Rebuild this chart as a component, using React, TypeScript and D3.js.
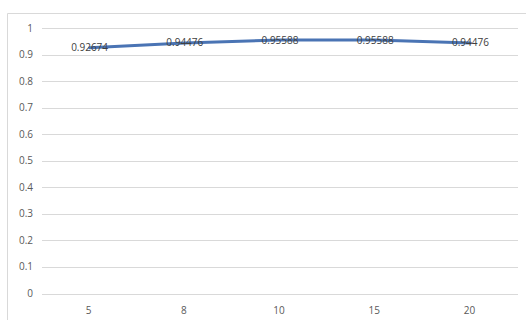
import React from "react";
import * as d3 from "d3";

const categories = ["5", "8", "10", "15", "20"];
const values = [0.92674, 0.94476, 0.95588, 0.95588, 0.94476];
const yTicks = [0, 0.1, 0.2, 0.3, 0.4, 0.5, 0.6, 0.7, 0.8, 0.9, 1];

const W = 526;
const H = 320;
const plot = { left: 42, right: 518, top: 28.3, bottom: 293.5 };
const font = "'Open Sans', 'Noto Sans', sans-serif";

export default function App() {
  const x = d3
    .scaleBand<string>()
    .domain(categories)
    .range([plot.left, plot.right]);
  const y = d3.scaleLinear().domain([0, 1]).range([plot.bottom, plot.top]);

  const line = d3
    .line<number>()
    .x((_, i) => (x(categories[i]) as number) + x.bandwidth() / 2)
    .y((d) => y(d));

  return (
    <svg
      width={W}
      height={H}
      style={{ position: "absolute", left: 0, top: 0, background: "#fff" }}
    >
      {/* chart area frame */}
      <path d={`M7.5,${H} V13.5 H${W}`} fill="none" stroke="#d9d9d9" strokeWidth={1} />

      {/* gridlines and y labels */}
      {yTicks.map((t) => (
        <g key={t}>
          <line
            x1={plot.left}
            x2={plot.right}
            y1={Math.round(y(t)) + 0.5}
            y2={Math.round(y(t)) + 0.5}
            stroke="#d9d9d9"
            strokeWidth={1}
          />
          <text
            x={33}
            y={y(t)}
            dy="0.35em"
            textAnchor="end"
            fontFamily={font}
            fontSize={10}
            fill="#595959"
          >
            {d3.format("~g")(t)}
          </text>
        </g>
      ))}

      {/* x labels */}
      {categories.map((c) => (
        <text
          key={c}
          x={(x(c) as number) + x.bandwidth() / 2 - 1}
          y={310}
          dy="0.35em"
          textAnchor="middle"
          fontFamily={font}
          fontSize={10}
          fill="#595959"
        >
          {c}
        </text>
      ))}

      {/* series line */}
      <path
        d={line(values) || ""}
        fill="none"
        stroke="#4a74b4"
        strokeWidth={3}
        strokeLinejoin="round"
        strokeLinecap="round"
      />

      {/* data labels */}
      {values.map((v, i) => (
        <text
          key={i}
          x={(x(categories[i]) as number) + x.bandwidth() / 2}
          y={y(v)}
          dy="0.35em"
          textAnchor="middle"
          fontFamily={font}
          fontSize={10}
          fill="#404040"
        >
          {v}
        </text>
      ))}
    </svg>
  );
}
